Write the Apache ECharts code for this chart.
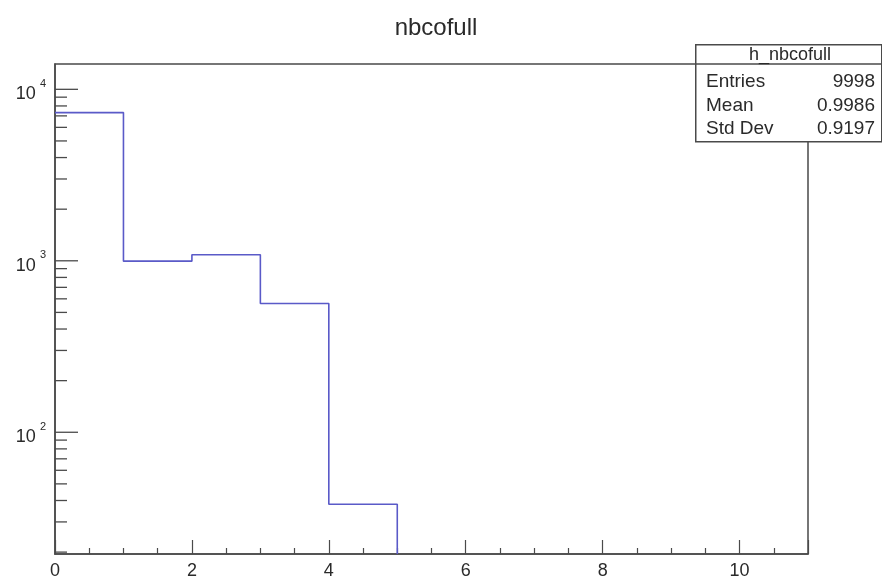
<!DOCTYPE html>
<html>
<head>
<meta charset="utf-8">
<title>nbcofull</title>
<script src="https://cdn.jsdelivr.net/npm/echarts@6/dist/echarts.min.js"></script>
<style>
  html, body { margin: 0; padding: 0; background: #fff; }
  #chart { width: 882px; height: 580px; }
</style>
</head>
<body>
<div id="chart"></div>
<script>
// histogram
var binEdges = [0, 1, 2, 3, 4, 5]
var binCounts = [7317, 995, 1085, 563, 38]
var xTickLabels = ['0', '2', '4', '6', '8', '10']
var yDecades = [100, 1000, 10000]
var histName = 'h_nbcofull'
var statNames = ['Entries', 'Mean', 'Std Dev']
var statValues = ['9998', '0.9986', '0.9197']

var xMax = 11
var yMin = 19.5
var yMax = 14050
var axisColor = '#4a4a4a'
var textColor = '#2a2a2a'
var font = 'Liberation Sans, Arial, sans-serif'

// outline points (step at bin edges), last one drops to the bottom
var stepData = []
for (var i = 0; i < binCounts.length; i++) {
  stepData.push([binEdges[i], binCounts[i]])
}
stepData.push([binEdges[binEdges.length - 1], yMin])

// y ticks : decades + 2..9 minors, ROOT style (inside)
var yTickData = []
for (var d = 1; d <= 4; d++) {
  for (var k = 1; k <= 9; k++) {
    var v = k * Math.pow(10, d)
    if (v >= yMin && v <= yMax) yTickData.push([0, v, k === 1 ? 1 : 0])
  }
}

var chart = echarts.init(document.getElementById('chart'))

var options = {
  animation: false,
  backgroundColor: '#fff',
  title: {
    text: 'nbcofull',
    left: 431,
    textAlign: 'center',
    top: 11,
    textStyle: { fontFamily: font, fontSize: 24, fontWeight: 'normal', color: textColor }
  },
  grid: {
    left: 55,
    top: 64,
    right: 74,
    bottom: 26,
    show: true,
    borderColor: axisColor,
    borderWidth: 1.5,
    backgroundColor: '#fff'
  },
  xAxis: {
    type: 'value',
    min: 0,
    max: xMax,
    interval: 2,
    axisLine: { lineStyle: { color: axisColor, width: 1.5 } },
    axisTick: { inside: true, length: 14, lineStyle: { color: axisColor, width: 1.2 } },
    minorTick: { show: true, splitNumber: 4, length: 6, lineStyle: { color: axisColor, width: 1.2 } },
    splitLine: { show: false },
    axisLabel: {
      margin: 8,
      showMaxLabel: false,
      fontFamily: font,
      fontSize: 18,
      color: textColor,
      formatter: function (val) {
        return xTickLabels.indexOf(String(val)) >= 0 ? String(val) : ''
      }
    }
  },
  yAxis: {
    type: 'log',
    logBase: 10,
    min: yMin,
    max: yMax,
    axisLine: { show: true, lineStyle: { color: axisColor, width: 1.5 } },
    axisTick: { show: false },
    splitLine: { show: false },
    axisLabel: {
      margin: 9,
      showMinLabel: false,
      showMaxLabel: false,
      formatter: function (val) {
        var e = Math.round(Math.log10(val))
        if (Math.abs(val - Math.pow(10, e)) / val > 1e-6) return ''
        if (yDecades.indexOf(Math.pow(10, e)) < 0) return ''
        return '{b|10}{s|' + e + '}'
      },
      rich: {
        b: { fontFamily: font, fontSize: 18, color: textColor, lineHeight: 22, padding: [10, 0, 0, 0] },
        s: { fontFamily: font, fontSize: 11, color: textColor, lineHeight: 11, verticalAlign: 'top', padding: [0, 0, 0, 4] }
      }
    }
  },
  series: [
    {
      type: 'line',
      step: 'end',
      data: stepData,
      showSymbol: false,
      clip: true,
      lineStyle: { color: '#5a5ac8', width: 1.6 },
      z: 3
    },
    {
      type: 'custom',
      data: yTickData,
      clip: false,
      silent: true,
      z: 4,
      renderItem: function (params, api) {
        var p = api.coord([api.value(0), api.value(1)])
        var len = api.value(2) === 1 ? 23 : 12
        return {
          type: 'line',
          shape: { x1: p[0], y1: p[1], x2: p[0] + len, y2: p[1] },
          style: { stroke: axisColor, lineWidth: 1.3 }
        }
      }
    }
  ],
  graphic: [
    {
      type: 'rect',
      left: 695,
      top: 44,
      shape: { width: 186, height: 97 },
      style: { fill: '#fff', stroke: axisColor, lineWidth: 1.5 },
      z: 10
    },
    {
      type: 'line',
      shape: { x1: 695, y1: 64, x2: 881, y2: 64 },
      style: { stroke: axisColor, lineWidth: 1.5 },
      z: 11
    },
    {
      type: 'text',
      x: 790,
      y: 55,
      style: { text: histName, fontFamily: font, fontSize: 18, fill: textColor, align: 'center', verticalAlign: 'middle' },
      z: 11
    }
  ]
}

for (var j = 0; j < statNames.length; j++) {
  options.graphic.push({
    type: 'text',
    x: 706,
    y: 82 + j * 23.5,
    style: { text: statNames[j], fontFamily: font, fontSize: 19, fill: textColor, align: 'left', verticalAlign: 'middle' },
    z: 11
  })
  options.graphic.push({
    type: 'text',
    x: 875,
    y: 82 + j * 23.5,
    style: { text: statValues[j], fontFamily: font, fontSize: 19, fill: textColor, align: 'right', verticalAlign: 'middle' },
    z: 11
  })
}

chart.setOption(options)
</script>
</body>
</html>
